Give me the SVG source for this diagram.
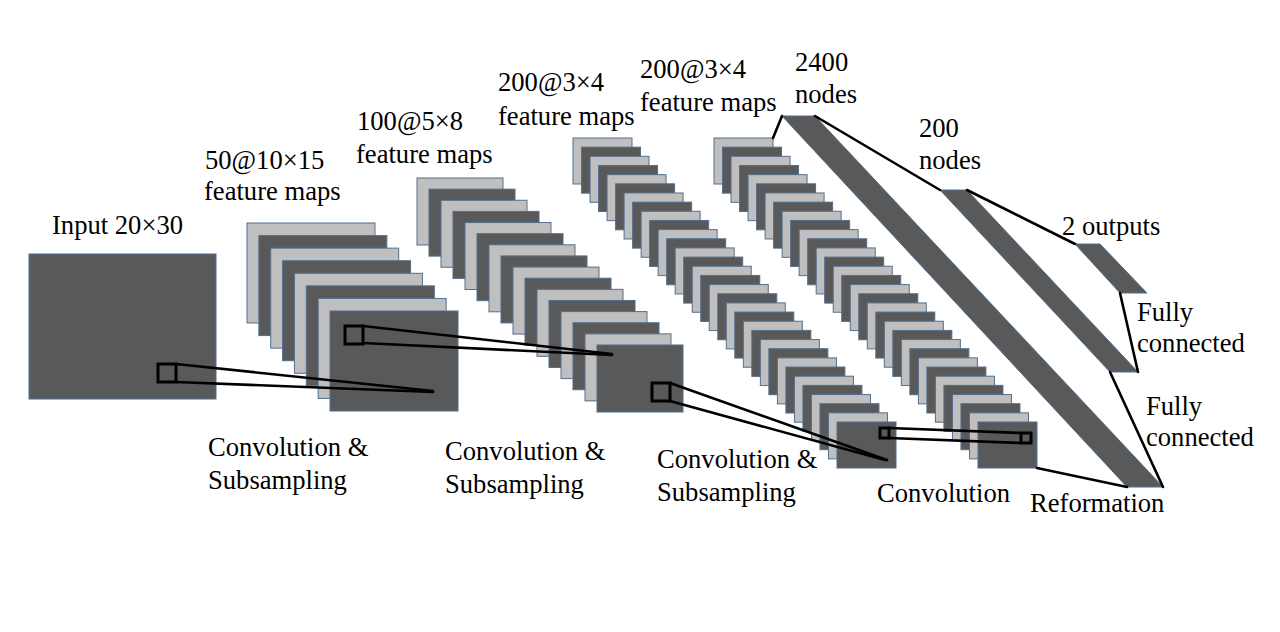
<svg xmlns="http://www.w3.org/2000/svg" xmlns:xlink="http://www.w3.org/1999/xlink" width="1280" height="632" viewBox="0 0 1280 632">
<style>
.d{fill:#595959;stroke:#52708f;stroke-width:1}
.l{fill:#bfbfbf;stroke:#52708f;stroke-width:1}
.ln{stroke:#000;stroke-width:2.6;fill:none;stroke-linecap:round}
.sq{fill:none;stroke:#000;stroke-width:3}
text{font-family:"Liberation Serif","Times New Roman",serif;font-size:26.6px;fill:#000}
</style>
<defs>
<g id="pair3">
<rect class="l" x="0" y="0" width="59" height="46"/>
<rect class="d" x="8.516" y="9.161" width="59" height="46"/>
</g>
</defs>
<rect width="1280" height="632" fill="#fff"/>

<g id="input">
<rect class="d" x="29" y="254" width="187" height="145"/>
<text x="52" y="234">Input 20×30</text>
</g>

<g id="stack1">
<rect class="l" x="247" y="223" width="128" height="100"/>
<rect class="d" x="258.86" y="235.57" width="128" height="100"/>
<rect class="l" x="270.71" y="248.14" width="128" height="100"/>
<rect class="d" x="282.57" y="260.71" width="128" height="100"/>
<rect class="l" x="294.43" y="273.29" width="128" height="100"/>
<rect class="d" x="306.29" y="285.86" width="128" height="100"/>
<rect class="l" x="318.14" y="298.43" width="128" height="100"/>
<rect class="d" x="330" y="311" width="128" height="100"/>
<text x="205" y="169">50@10×15</text>
<text x="204" y="200">feature maps</text>
</g>

<g id="stack2">
<rect class="l" x="417" y="178" width="86" height="67"/>
<rect class="d" x="429" y="189.13" width="86" height="67"/>
<rect class="l" x="441" y="200.27" width="86" height="67"/>
<rect class="d" x="453" y="211.4" width="86" height="67"/>
<rect class="l" x="465" y="222.53" width="86" height="67"/>
<rect class="d" x="477" y="233.67" width="86" height="67"/>
<rect class="l" x="489" y="244.8" width="86" height="67"/>
<rect class="d" x="501" y="255.93" width="86" height="67"/>
<rect class="l" x="513" y="267.07" width="86" height="67"/>
<rect class="d" x="525" y="278.2" width="86" height="67"/>
<rect class="l" x="537" y="289.33" width="86" height="67"/>
<rect class="d" x="549" y="300.47" width="86" height="67"/>
<rect class="l" x="561" y="311.6" width="86" height="67"/>
<rect class="d" x="573" y="322.73" width="86" height="67"/>
<rect class="l" x="585" y="333.87" width="86" height="67"/>
<rect class="d" x="597" y="345" width="86" height="67"/>
<text x="357" y="130">100@5×8</text>
<text x="356" y="163">feature maps</text>
</g>

<g id="stack3">
<use xlink:href="#pair3" x="573" y="138"/>
<use xlink:href="#pair3" x="590.03" y="156.32"/>
<use xlink:href="#pair3" x="607.06" y="174.65"/>
<use xlink:href="#pair3" x="624.10" y="192.97"/>
<use xlink:href="#pair3" x="641.13" y="211.29"/>
<use xlink:href="#pair3" x="658.16" y="229.61"/>
<use xlink:href="#pair3" x="675.19" y="247.94"/>
<use xlink:href="#pair3" x="692.22" y="266.26"/>
<use xlink:href="#pair3" x="709.26" y="284.58"/>
<use xlink:href="#pair3" x="726.29" y="302.90"/>
<use xlink:href="#pair3" x="743.32" y="321.23"/>
<use xlink:href="#pair3" x="760.35" y="339.55"/>
<use xlink:href="#pair3" x="777.38" y="357.87"/>
<use xlink:href="#pair3" x="794.42" y="376.20"/>
<use xlink:href="#pair3" x="811.45" y="394.52"/>
<use xlink:href="#pair3" x="828.48" y="412.84"/>
<text x="498" y="91">200@3×4</text>
<text x="498" y="125">feature maps</text>
</g>

<g id="stack4">
<use xlink:href="#pair3" x="714" y="138"/>
<use xlink:href="#pair3" x="731.03" y="156.32"/>
<use xlink:href="#pair3" x="748.06" y="174.65"/>
<use xlink:href="#pair3" x="765.10" y="192.97"/>
<use xlink:href="#pair3" x="782.13" y="211.29"/>
<use xlink:href="#pair3" x="799.16" y="229.61"/>
<use xlink:href="#pair3" x="816.19" y="247.94"/>
<use xlink:href="#pair3" x="833.22" y="266.26"/>
<use xlink:href="#pair3" x="850.26" y="284.58"/>
<use xlink:href="#pair3" x="867.29" y="302.90"/>
<use xlink:href="#pair3" x="884.32" y="321.23"/>
<use xlink:href="#pair3" x="901.35" y="339.55"/>
<use xlink:href="#pair3" x="918.38" y="357.87"/>
<use xlink:href="#pair3" x="935.42" y="376.20"/>
<use xlink:href="#pair3" x="952.45" y="394.52"/>
<use xlink:href="#pair3" x="969.48" y="412.84"/>
<text x="640" y="78">200@3×4</text>
<text x="640" y="111">feature maps</text>
</g>

<g id="bar2400">
<polygon class="d" points="782,116 815,116 1163,487 1127,487"/>
<text x="795" y="71">2400</text>
<text x="795" y="103">nodes</text>
</g>

<g id="bar200">
<polygon class="d" points="940,190 967,190 1138,372 1110,372"/>
<text x="919" y="137">200</text>
<text x="919" y="169">nodes</text>
</g>

<g id="out2">
<polygon class="d" points="1075,244 1100,244 1147,293 1120,293"/>
<text x="1062" y="235">2 outputs</text>
</g>

<g id="labels">
<text x="208" y="456">Convolution &amp;</text>
<text x="208" y="489">Subsampling</text>
<text x="445" y="460">Convolution &amp;</text>
<text x="445" y="493">Subsampling</text>
<text x="657" y="468">Convolution &amp;</text>
<text x="657" y="501">Subsampling</text>
<text x="877" y="502">Convolution</text>
<text x="1030" y="512">Reformation</text>
<text x="1137" y="321">Fully</text>
<text x="1137" y="352">connected</text>
<text x="1146" y="415">Fully</text>
<text x="1146" y="446">connected</text>
</g>

<g id="connectors">
<rect class="sq" x="158" y="364" width="18" height="18"/>
<line class="ln" x1="176" y1="364" x2="433" y2="391"/>
<line class="ln" x1="176" y1="382" x2="433" y2="392"/>
<rect class="sq" x="345" y="326" width="18" height="18"/>
<line class="ln" x1="363" y1="326" x2="612" y2="354"/>
<line class="ln" x1="363" y1="343" x2="612" y2="355"/>
<rect class="sq" x="652" y="383" width="18" height="18"/>
<line class="ln" x1="670" y1="383" x2="887" y2="460"/>
<line class="ln" x1="670" y1="401" x2="885" y2="460"/>
<rect class="sq" x="880" y="428" width="9" height="10"/>
<rect class="sq" x="1021" y="433" width="10" height="10"/>
<line class="ln" x1="889" y1="428" x2="1021" y2="433"/>
<line class="ln" x1="889" y1="438" x2="1021" y2="443"/>
<line class="ln" x1="773" y1="138" x2="782" y2="116"/>
<line class="ln" x1="1037" y1="468" x2="1127" y2="487"/>
<line class="ln" x1="815" y1="116" x2="940" y2="190"/>
<line class="ln" x1="1163" y1="487" x2="1110" y2="372"/>
<line class="ln" x1="967" y1="190" x2="1075" y2="244"/>
<line class="ln" x1="1138" y1="372" x2="1120" y2="293"/>
</g>
</svg>
